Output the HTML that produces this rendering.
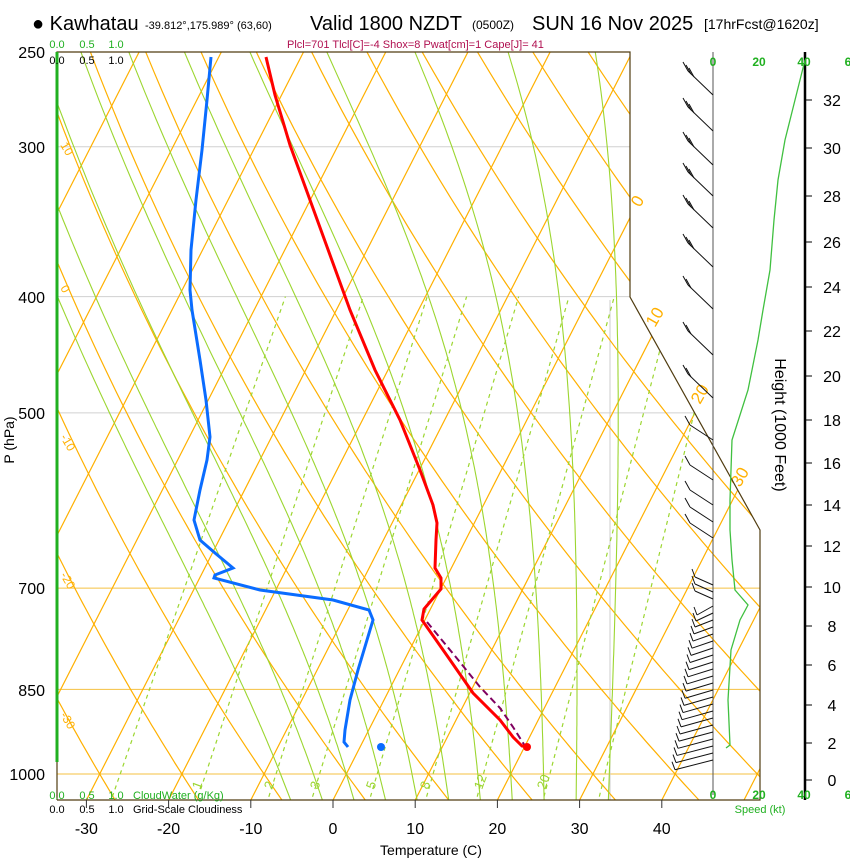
<!DOCTYPE html>
<html><head><meta charset="utf-8"><style>
body{margin:0;background:#fff;}
svg{display:block;font-family:"Liberation Sans",sans-serif;}
</style></head><body>
<svg id="s" width="850" height="860" xmlns="http://www.w3.org/2000/svg">
<defs><clipPath id="c"><polygon points="57,52 630,52 630,297 760,530 760,800 57,800"/></clipPath></defs>
<rect width="850" height="860" fill="#fff"/>
<g id="bg" clip-path="url(#c)"></g>
<g id="fg"></g>
</svg>
<script>
var NS="http://www.w3.org/2000/svg";
function Y(p){return 774+521*Math.log(p/1000);}
function X(T,p){return 333+8.22*T+0.51*(800-Y(p));}
function el(par,tag,a,txt){var e=document.createElementNS(NS,tag);for(var k in a)e.setAttribute(k,a[k]);if(txt!==undefined)e.textContent=txt;par.appendChild(e);return e;}
var bg=document.getElementById('bg'),fg=document.getElementById('fg');
function poly(par,pts,st,w,dash){var a={points:pts.map(function(q){return q[0].toFixed(1)+','+q[1].toFixed(1)}).join(' '),fill:'none',stroke:st,'stroke-width':w};if(dash)a['stroke-dasharray']=dash;return el(par,'polyline',a);}
[[300,'#d0d0d0'],[400,'#d0d0d0'],[500,'#d0d0d0'],[700,'#f5c040'],[850,'#f5c040'],[1000,'#f5c040']].forEach(function(a){var y=Y(a[0]);el(bg,'line',{x1:57,x2:760,y1:y,y2:y,stroke:a[1],'stroke-width':1});});
el(bg,'line',{x1:610,x2:610,y1:300,y2:800,stroke:'#ccc','stroke-width':1});
for(var T=-120;T<=50;T+=10){poly(bg,[[X(T,1060),Y(1060)],[X(T,240),Y(240)]],'#ffb000',1.2);}
for(var th=-60;th<=200;th+=10){var pts=[];for(var p=1060;p>=240;p-=10){var t=(th+273.15)*Math.pow(p/1000,0.286)-273.15;pts.push([X(t,p),Y(p)]);}poly(bg,pts,'#ffb000',1.2);}
function es(t){return 6.112*Math.exp(17.67*t/(t+243.5));}
function dTdp(t,p){var Tk=t+273.15,e=es(t),rs=0.622*e/(p-e);return (287*Tk+2.5e6*rs)/(1004+2.5e6*2.5e6*rs*0.622/(287*Tk*Tk))/p;}
for(var T0=-8;T0<=32;T0+=4){var pts=[],t=T0,p;
 var tt=T0,pp;
 for(pp=1000;pp<1060;pp+=5){tt+=dTdp(tt,pp)*5;}
 var down=[[X(tt,1060),Y(1060)]];
 for(p=1000;p>=240;p-=5){pts.push([X(t,p),Y(p)]);t-=dTdp(t,p)*5;}
 poly(bg,down.concat(pts),'#9cd630',1.1);}
function tdw(w,p){var e=w*p/(622+w),l=Math.log(e/6.112);return 243.5*l/(17.67-l);}
[0.4,1,2,3,5,8,12,20,30].forEach(function(w){poly(bg,[[X(tdw(w,1060),1060),Y(1060)],[X(tdw(w,400),400),Y(400)]],'#9cd630',1.2,'4,4');});
[[1,200],[2,272],[3,318],[5,374],[8,428],[12,482],[20,545]].forEach(function(a){el(fg,'text',{x:a[1],y:790,fill:'#9cd630','font-size':13,transform:'rotate(-70 '+a[1]+' 790)'},a[0]);});
[[10,145],[0,288],[-10,437],[-20,575],[-30,715]].forEach(function(a){el(fg,'text',{x:60,y:a[1],fill:'#ffb000','font-size':12,transform:'rotate(60 60 '+a[1]+')'},a[0]);});
[[0,640,208],[10,655,328],[20,700,405],[30,740,488]].forEach(function(a){el(fg,'text',{x:a[1],y:a[2],fill:'#ffb000','font-size':17,transform:'rotate(-60 '+a[1]+' '+a[2]+')'},a[0]);});
poly(fg,[[57,800],[57,52],[630,52],[630,297],[760,530],[760,800],[57,800]],'#503c10',1.2);
el(fg,'line',{x1:57,x2:57,y1:52,y2:762,stroke:'#20b020','stroke-width':3});
[-30,-20,-10,0,10,20,30,40].forEach(function(t){var x=333+8.22*t;el(fg,'line',{x1:x,x2:x,y1:800,y2:808,stroke:'#333'});el(fg,'text',{x:x,y:834,'font-size':16,'text-anchor':'middle'},t);});
[[250,52],[300,147],[400,297],[500,413],[700,588],[850,690],[1000,774]].forEach(function(a){el(fg,'text',{x:45,y:a[1]+6,'font-size':16,'text-anchor':'end'},a[0]);});
poly(fg,[[427,622],[455,656],[480,687],[500,708],[513,727],[525,746]],'#800060',2,'7,4');
poly(fg,[[266,57],[275,95],[290,145],[310,200],[330,255],[350,310],[375,370],[400,420],[420,470],[433,505],[437,523],[436,540],[435,568],[441,578],[441,589],[424,609],[422,620],[448,657],[473,693],[500,720],[513,737],[522,746],[528,747]],'#ff0000',3);
poly(fg,[[211,57],[207,100],[202,150],[196,200],[191,250],[190,290],[192,310],[200,360],[206,400],[210,437],[207,460],[200,490],[194,520],[200,540],[215,553],[233,568],[215,575],[214,578],[260,590],[333,600],[369,610],[373,620],[367,640],[358,670],[350,700],[345,730],[344,742],[348,747]],'#0a6cff',3);
el(fg,'circle',{cx:527,cy:747,r:4,fill:'#f00'});el(fg,'circle',{cx:381,cy:747,r:4,fill:'#0a6cff'});
el(fg,'line',{x1:713,x2:713,y1:52,y2:795,stroke:'#555','stroke-width':1});
el(fg,'line',{x1:805,x2:805,y1:52,y2:800,stroke:'#000','stroke-width':2.5});
[[0,780],[2,743],[4,705],[6,665],[8,626],[10,587],[12,546],[14,505],[16,463],[18,420],[20,376],[22,331],[24,287],[26,242],[28,196],[30,148],[32,100]].forEach(function(a){el(fg,'line',{x1:805,x2:812,y1:a[1],y2:a[1],stroke:'#000'});el(fg,'text',{x:832,y:a[1]+6,'font-size':16,'text-anchor':'middle'},a[0]);});
poly(fg,[[805,60],[795,100],[785,140],[778,180],[774,220],[770,270],[763,310],[758,340],[748,390],[732,440],[730,500],[730,530],[732,560],[735,590],[748,605],[740,620],[731,650],[728,700],[730,745],[726,748]],'#40c040',1.3);
[[0,713],[20,759],[40,804],[6,848]].forEach(function(a){el(fg,'text',{x:a[1],y:66,fill:'#20b020','font-size':12,'font-weight':'bold','text-anchor':'middle'},a[0]);el(fg,'text',{x:a[1],y:799,fill:'#20b020','font-size':12,'font-weight':'bold','text-anchor':'middle'},a[0]);});
[95,131,165,196,228,267,309,355,398,440,480,505,522,538].forEach(function(y,i){var tx=688,ty=y-24;if(i>=9){tx=690;ty=y-15;}el(fg,'line',{x1:713,y1:y,x2:tx,y2:ty,stroke:'#111'});var n=i<6?3:(i<9?2:1);for(var k=0;k<n;k++){var bx=tx+k*3,by=ty+k*3;el(fg,'line',{x1:bx,y1:by,x2:bx-5,y2:by-9,stroke:'#111'});}});
for(var i=0;i<26;i++){var y=585+i*7,tx=700-i*1.0,ty=y+(i<6?12-i:6+i*0.15);if(i<3){tx=695;ty=y-8;}el(fg,'line',{x1:713,y1:y,x2:tx,y2:ty,stroke:'#111','stroke-width':1});el(fg,'line',{x1:tx,y1:ty,x2:tx-3,y2:ty-8,stroke:'#111'});}
el(fg,'text',{x:32,y:30,'font-size':20},'● Kawhatau');
el(fg,'text',{x:145,y:29,'font-size':11},'-39.812°,175.989° (63,60)');
el(fg,'text',{x:310,y:30,'font-size':20},'Valid 1800 NZDT');
el(fg,'text',{x:472,y:29,'font-size':12},'(0500Z)');
el(fg,'text',{x:532,y:30,'font-size':20},'SUN 16 Nov 2025');
el(fg,'text',{x:704,y:29,'font-size':14},'[17hrFcst@1620z]');
el(fg,'text',{x:287,y:48,'font-size':11,fill:'#b01050'},'Plcl=701 Tlcl[C]=-4 Shox=8 Pwat[cm]=1 Cape[J]= 41');
['0.0','0.5','1.0'].forEach(function(s,i){var x=[57,87,116][i];el(fg,'text',{x:x,y:48,'font-size':11,fill:'#20b020','text-anchor':'middle'},s);el(fg,'text',{x:x,y:64,'font-size':11,'text-anchor':'middle'},s);el(fg,'text',{x:x,y:799,'font-size':11,fill:'#20b020','text-anchor':'middle'},s);el(fg,'text',{x:x,y:813,'font-size':11,'text-anchor':'middle'},s);});
el(fg,'text',{x:133,y:799,'font-size':11,fill:'#20b020'},'CloudWater (g/Kg)');
el(fg,'text',{x:133,y:813,'font-size':11},'Grid-Scale Cloudiness');
el(fg,'text',{x:431,y:855,'font-size':14,'text-anchor':'middle'},'Temperature (C)');
el(fg,'text',{x:760,y:813,'font-size':11,fill:'#20b020','text-anchor':'middle'},'Speed (kt)');
el(fg,'text',{x:14,y:440,'font-size':14,'text-anchor':'middle',transform:'rotate(-90 14 440)'},'P (hPa)');
el(fg,'text',{x:775,y:425,'font-size':16,'text-anchor':'middle',transform:'rotate(90 775 425)'},'Height (1000 Feet)');
</script>
</body></html>
